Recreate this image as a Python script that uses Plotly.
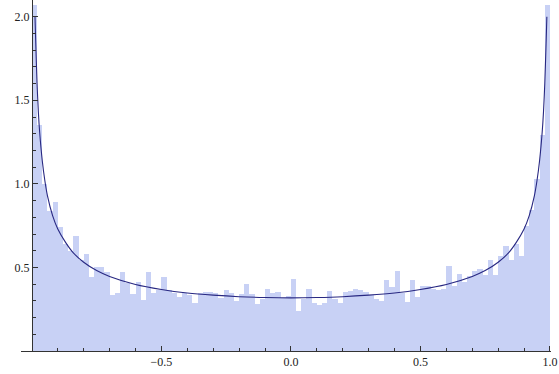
import plotly.graph_objects as go

# ---- data ----
bin_start = -1.0
bin_width = 0.02
densities = [
    2.07, 1.35, 1.00, 0.84, 0.89, 0.74, 0.64, 0.60, 0.69, 0.545,
    0.58, 0.445, 0.50, 0.50, 0.475, 0.335, 0.35, 0.475, 0.405, 0.34,
    0.41, 0.305, 0.475, 0.35, 0.365, 0.44, 0.365, 0.345, 0.325, 0.345,
    0.335, 0.29, 0.345, 0.355, 0.355, 0.345, 0.315, 0.365, 0.345, 0.30,
    0.34, 0.40, 0.34, 0.28, 0.31, 0.37, 0.35, 0.355, 0.315, 0.33,
    0.43, 0.24, 0.31, 0.37, 0.285, 0.275, 0.285, 0.36, 0.31, 0.285,
    0.355, 0.36, 0.37, 0.365, 0.355, 0.335, 0.31, 0.30, 0.425, 0.385,
    0.48, 0.35, 0.295, 0.425, 0.325, 0.39, 0.39, 0.37, 0.365, 0.37,
    0.51, 0.39, 0.46, 0.41, 0.45, 0.48, 0.49, 0.455, 0.545, 0.455,
    0.57, 0.63, 0.545, 0.64, 0.57, 0.745, 0.845, 1.03, 1.29, 2.07,
]

curve_x = [-0.988, -0.985, -0.98, -0.975, -0.97, -0.96, -0.95, -0.94, -0.92, -0.90,
           -0.87, -0.84, -0.80, -0.75, -0.70, -0.60, -0.50, -0.40, -0.30, -0.20,
           -0.10, 0.0, 0.10, 0.20, 0.30, 0.40, 0.50, 0.60, 0.70, 0.75,
           0.80, 0.84, 0.87, 0.90, 0.92, 0.94, 0.95, 0.96, 0.97, 0.975,
           0.98, 0.985, 0.988]
curve_y = [2.00, 1.84, 1.60, 1.43, 1.31, 1.14, 1.02, 0.93, 0.81, 0.73,
           0.65, 0.587, 0.531, 0.481, 0.446, 0.398, 0.368, 0.347, 0.334, 0.325,
           0.320, 0.318, 0.320, 0.325, 0.334, 0.347, 0.368, 0.398, 0.446, 0.481,
           0.531, 0.587, 0.65, 0.73, 0.81, 0.93, 1.02, 1.14, 1.31, 1.43,
           1.60, 1.84, 2.00]

x_tick_vals = [-0.5, 0.0, 0.5, 1.0]
x_tick_text = ["\u22120.5", "0.0", "0.5", "1.0"]
y_tick_vals = [0.5, 1.0, 1.5, 2.0]
y_tick_text = ["0.5", "1.0", "1.5", "2.0"]

# ---- figure ----
centers = [bin_start + bin_width * (i + 0.5) for i in range(len(densities))]
x_minor = [round(-0.9 + 0.1 * k, 2) for k in range(20)]
x_minor = [v for v in x_minor if abs(v * 2 - round(v * 2)) > 1e-6]
y_minor = [round(0.1 * k, 2) for k in range(1, 21)]
y_minor = [v for v in y_minor if abs(v * 2 - round(v * 2)) > 1e-6]

fig = go.Figure()
fig.add_trace(go.Bar(
    x=centers, y=densities, width=bin_width,
    marker=dict(color="rgb(200,209,245)", line=dict(width=0)),
    hoverinfo="skip",
))
fig.add_trace(go.Scatter(
    x=curve_x, y=curve_y, mode="lines",
    line=dict(color="rgb(40,40,130)", width=1.1, shape="spline", smoothing=0.8),
    hoverinfo="skip",
))

axis_font = dict(family="'Liberation Serif', 'Times New Roman', serif", size=12, color="#222")
fig.update_layout(
    width=559, height=374,
    margin=dict(l=21, r=8, t=0, b=23, autoexpand=False),
    plot_bgcolor="white", paper_bgcolor="white",
    showlegend=False, bargap=0,
    xaxis=dict(
        range=[-1.042, 1.004], showgrid=False, zeroline=False, automargin=False,
        showline=True, linecolor="#333", linewidth=1,
        tickmode="array", tickvals=x_tick_vals, ticktext=x_tick_text,
        ticks="inside", ticklen=5, tickcolor="#333", tickwidth=1,
        minor=dict(tickmode="array", tickvals=x_minor, ticks="inside",
                   ticklen=3, tickcolor="#333", showgrid=False),
        tickfont=axis_font,
    ),
    yaxis=dict(
        range=[0, 2.1], showgrid=False, zeroline=False, automargin=False,
        showline=True, linecolor="#333", linewidth=1,
        anchor="free", position=0.042 / 2.046,
        tickmode="array", tickvals=y_tick_vals, ticktext=y_tick_text,
        ticks="inside", ticklen=5, tickcolor="#333", tickwidth=1,
        minor=dict(tickmode="array", tickvals=y_minor, ticks="inside",
                   ticklen=3, tickcolor="#333", showgrid=False),
        tickfont=axis_font,
    ),
)

fig.write_html(
    "out.html",
    config={"displayModeBar": False},
    post_script="document.body.style.margin='0';document.body.style.overflow='hidden';",
)
